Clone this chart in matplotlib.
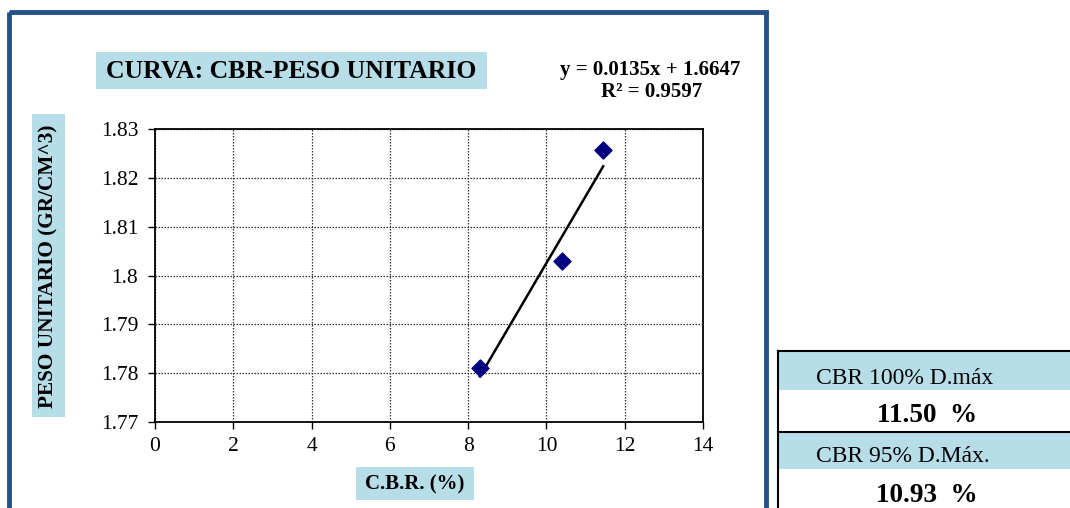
import numpy as np
import matplotlib
matplotlib.use("Agg")
import matplotlib.pyplot as plt
from matplotlib.patches import Rectangle

# Data: CBR (%) vs unit weight (g/cm^3)
cbr = [8.30, 10.40, 11.45]
peso_unitario = [1.781, 1.803, 1.8257]
x_ticks = [0, 2, 4, 6, 8, 10, 12, 14]
y_ticks = [1.77, 1.78, 1.79, 1.80, 1.81, 1.82, 1.83]
y_tick_labels = ["1.77", "1.78", "1.79", "1.8", "1.81", "1.82", "1.83"]
equation_text = "y = 0.0135x + 1.6647"
r2_text = "R² = 0.9597"
table_labels = ["CBR 100% D.máx", "CBR 95% D.Máx."]
table_values = [11.50, 10.93]

W, H = 1070, 508
fig = plt.figure(figsize=(W / 100, H / 100), dpi=100)
plt.rcParams["font.family"] = ["Liberation Serif", "DejaVu Serif"]

LIGHT_BLUE = "#B7DEE8"
FRAME = "#24518A"


def fx(px):
    return px / W


def fy(py):
    return 1 - py / H


# Overlay axes in pixel coordinates for boxes and frames
bg = fig.add_axes([0, 0, 1, 1])
bg.set_xlim(0, W)
bg.set_ylim(H, 0)
bg.axis("off")

# Chart frame
bg.add_patch(Rectangle((8.5, 11.5), 757.5, 520, fill=False, edgecolor=FRAME, lw=3.5))

# Title box
bg.add_patch(Rectangle((96, 52), 391, 37, facecolor=LIGHT_BLUE, edgecolor="none"))
bg.text(291, 71, "CURVA: CBR-PESO UNITARIO", ha="center", va="center",
        fontsize=18.5, fontweight="bold")

# Trend equation
bg.text(650, 70, equation_text, ha="center", va="center", fontsize=15, fontweight="bold")
bg.text(652, 92, r2_text, ha="center", va="center", fontsize=15, fontweight="bold")

# Y-label box
bg.add_patch(Rectangle((32, 114), 33, 303, facecolor=LIGHT_BLUE, edgecolor="none"))
bg.text(48.5, 266, "PESO UNITARIO (GR/CM^3)", ha="center", va="center",
        rotation=90, fontsize=15.3, fontweight="bold")

# X-label box
bg.add_patch(Rectangle((356, 467), 118, 33, facecolor=LIGHT_BLUE, edgecolor="none"))
bg.text(415, 484, "C.B.R. (%)", ha="center", va="center", fontsize=15, fontweight="bold")

# Result table on the right
bg.add_patch(Rectangle((778, 351), 300, 39, facecolor=LIGHT_BLUE, edgecolor="none"))
bg.add_patch(Rectangle((778, 432), 300, 37, facecolor=LIGHT_BLUE, edgecolor="none"))
bg.plot([778, 1070], [351, 351], color="black", lw=1.5)
bg.plot([778, 1070], [432, 432], color="black", lw=1.5)
bg.plot([778, 778], [351, 508], color="black", lw=1.5)
bg.text(816, 378, table_labels[0], ha="left", va="center", fontsize=17)
bg.text(927, 415, f"{table_values[0]:.2f}  %", ha="center", va="center",
        fontsize=19.5, fontweight="bold")
bg.text(816, 457, table_labels[1], ha="left", va="center", fontsize=17)
bg.text(927, 496, f"{table_values[1]:.2f}  %", ha="center", va="center",
        fontsize=19.5, fontweight="bold")

# Main plot
ax = fig.add_axes([fx(155), fy(422), fx(703 - 155), (422 - 129) / H])
ax.set_xlim(0, 14)
ax.set_ylim(1.77, 1.83)
ax.set_xticks(x_ticks)
ax.set_yticks(y_ticks)
ax.set_yticklabels(y_tick_labels)
ax.tick_params(direction="out", length=5, width=1, labelsize=15.5, pad=7, color="black")
ax.tick_params(axis="x", pad=6)
ax.grid(True, color="#333333", linestyle=(0, (1.2, 1.2)), lw=0.9)
ax.set_axisbelow(True)
for s in ax.spines.values():
    s.set_color("black")
    s.set_linewidth(1.3)

ax.scatter(cbr, peso_unitario, marker="D", s=75, color="#000080", zorder=3)

# Linear trendline from the data
coef = np.polyfit(cbr, peso_unitario, 1)
xs = np.array([min(cbr), max(cbr)])
ax.plot(xs, np.polyval(coef, xs), color="black", lw=1.8, zorder=2)

fig.savefig("out.png", dpi=100)
